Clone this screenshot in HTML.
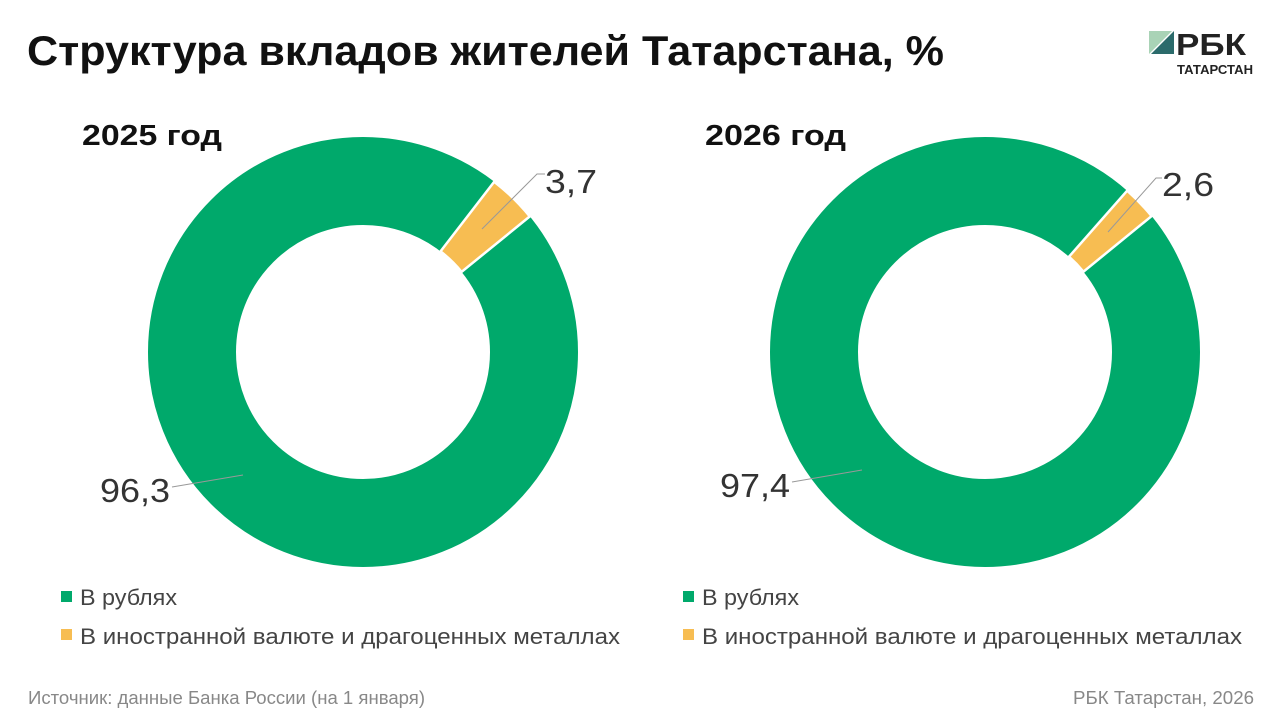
<!DOCTYPE html>
<html><head><meta charset="utf-8"><style>
body{margin:0;width:1280px;height:720px;background:#fff;overflow:hidden;font-family:"Liberation Sans",sans-serif}
</style></head><body>
<svg width="1280" height="720" xmlns="http://www.w3.org/2000/svg" font-family="Liberation Sans, sans-serif">
<text x="27" y="65" font-size="42" font-weight="bold" fill="#111" textLength="917" lengthAdjust="spacingAndGlyphs">Структура вкладов жителей Татарстана, %</text>
<polygon points="1149,31 1172,31 1149,54" fill="#a9d3b6"/>
<polygon points="1174,31 1174,54 1151,54" fill="#2b6b6b"/>
<text x="1176" y="55" font-size="31" font-weight="bold" fill="#222" textLength="70" lengthAdjust="spacingAndGlyphs">РБК</text>
<text x="1177" y="74" font-size="12.5" font-weight="bold" fill="#222" textLength="76" lengthAdjust="spacingAndGlyphs">ТАТАРСТАН</text>

<text x="82" y="145" font-size="29" font-weight="bold" fill="#111" textLength="140" lengthAdjust="spacingAndGlyphs">2025 год</text>
<text x="705" y="145" font-size="29" font-weight="bold" fill="#111" textLength="141" lengthAdjust="spacingAndGlyphs">2026 год</text>

<circle cx="363" cy="352" r="171" fill="none" stroke="#00a96b" stroke-width="88"/>
<path d="M494.2,181.7 A215,215 0 0 1 529.8,216.4 L461.6,271.9 A127,127 0 0 0 440.5,251.4 Z" fill="#f7bd52" stroke="#fff" stroke-width="2.5"/>
<circle cx="985" cy="352" r="171" fill="none" stroke="#00a96b" stroke-width="88"/>
<path d="M1127.2,190.7 A215,215 0 0 1 1151.6,216.1 L1083.4,271.7 A127,127 0 0 0 1069,256.7 Z" fill="#f7bd52" stroke="#fff" stroke-width="2.5"/>

<g stroke="#999" stroke-width="1" fill="none">
<polyline points="482,229 537,174 545,174"/>
<polyline points="1108,232 1156,178 1162,178"/>
<line x1="243" y1="475" x2="172" y2="487"/>
<line x1="862" y1="470" x2="792" y2="482"/>
</g>
<g font-size="33" fill="#333">
<text x="545" y="193" textLength="52" lengthAdjust="spacingAndGlyphs">3,7</text>
<text x="1162" y="196" textLength="52" lengthAdjust="spacingAndGlyphs">2,6</text>
<text x="100" y="502" textLength="70" lengthAdjust="spacingAndGlyphs">96,3</text>
<text x="720" y="497" textLength="70" lengthAdjust="spacingAndGlyphs">97,4</text>
</g>

<g font-size="22" fill="#444">
<rect x="61" y="591" width="11" height="11" fill="#00a96b"/>
<text x="80" y="605" textLength="97" lengthAdjust="spacingAndGlyphs">В рублях</text>
<rect x="61" y="629" width="11" height="11" fill="#f7bd52"/>
<text x="80" y="644" textLength="540" lengthAdjust="spacingAndGlyphs">В иностранной валюте и драгоценных металлах</text>
<rect x="683" y="591" width="11" height="11" fill="#00a96b"/>
<text x="702" y="605" textLength="97" lengthAdjust="spacingAndGlyphs">В рублях</text>
<rect x="683" y="629" width="11" height="11" fill="#f7bd52"/>
<text x="702" y="644" textLength="540" lengthAdjust="spacingAndGlyphs">В иностранной валюте и драгоценных металлах</text>
</g>
<g font-size="18" fill="#888">
<text x="28" y="704" textLength="397" lengthAdjust="spacingAndGlyphs">Источник: данные Банка России (на 1 января)</text>
<text x="1073" y="704" textLength="181" lengthAdjust="spacingAndGlyphs">РБК Татарстан, 2026</text>
</g>
</svg>
</body></html>
